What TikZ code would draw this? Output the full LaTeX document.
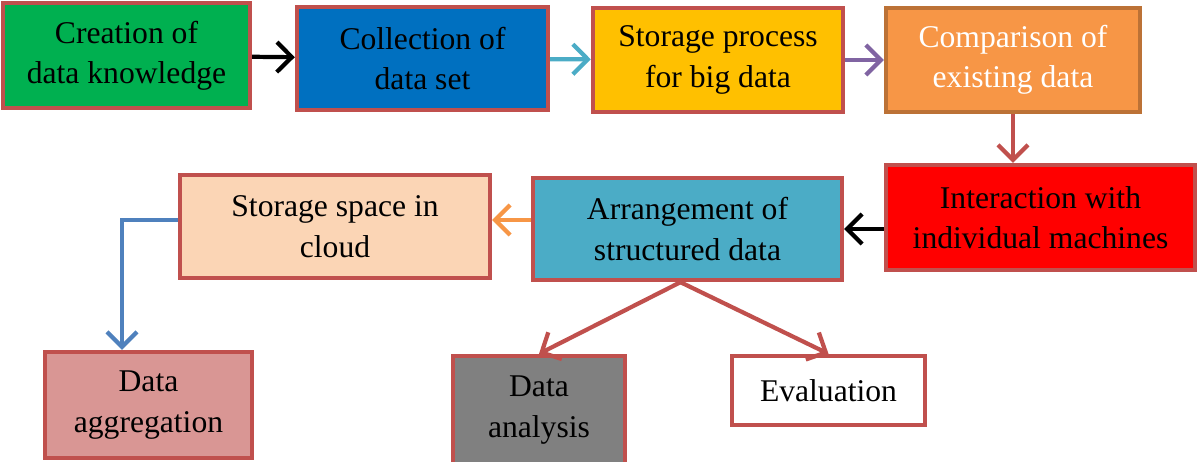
\documentclass[tikz,border=0pt]{standalone}
\usepackage{fontspec}
\setmainfont{Liberation Serif}
\usetikzlibrary{positioning,arrows.meta}
\definecolor{boxred}{RGB}{192,80,77}
\definecolor{cgreen}{RGB}{0,176,80}
\definecolor{cblue}{RGB}{0,112,192}
\definecolor{cyellow}{RGB}{255,192,0}
\definecolor{corange}{RGB}{247,150,70}
\definecolor{cbrown}{RGB}{188,114,54}
\definecolor{cteal}{RGB}{75,172,198}
\definecolor{cpeach}{RGB}{251,213,181}
\definecolor{cpink}{RGB}{217,150,148}
\definecolor{cpurple}{RGB}{128,100,162}
\definecolor{csteel}{RGB}{79,129,189}

\begin{document}
\begin{tikzpicture}[x=0.02cm,y=-0.02cm,
  box/.style={draw=boxred,line width=2.5pt,align=center,inner sep=2pt,
    font=\fontsize{18}{23}\selectfont},
  arr/.style={line width=2.4pt,-{Straight Barb[length=3mm,width=6mm]}}]
\useasboundingbox (0,0) rectangle (1197,461);
\node[box,fill=cgreen,minimum width=4.94cm,minimum height=2.1cm] (cre) at (126.5,55.5) {Creation of\\data knowledge};
\node[box,fill=cblue,minimum width=5.02cm,minimum height=2.06cm] (col) at (422.5,58.5) {Collection of\\data set};
\node[box,fill=cyellow,minimum width=5cm,minimum height=2.08cm] (sto) at (718,60) {Storage process\\for big data};
\node[box,draw=cbrown,fill=corange,text=white,minimum width=5.08cm,minimum height=2.08cm] (cmp) at (1013,60) {Comparison of\\existing data};
\node[box,fill=red,minimum width=6.18cm,minimum height=2.1cm] (int) at (1040.5,217.5) {Interaction with\\individual machines};
\node[box,fill=cteal,minimum width=6.18cm,minimum height=2.04cm] (arg) at (687.5,229) {Arrangement of\\structured data};
\node[box,fill=cpeach,minimum width=6.2cm,minimum height=2.06cm] (cld) at (335,226.5) {Storage space in\\cloud};
\node[box,fill=cpink,minimum width=4.14cm,minimum height=2.12cm] (agg) at (148.5,405) {Data\\aggregation};
\node[box,fill=gray,minimum width=3.44cm,minimum height=2.16cm] (ana) at (539,410) {Data\\analysis};
\node[box,fill=white,minimum width=3.86cm,minimum height=1.38cm] (eva) at (828.5,390.5) {Evaluation};

\draw[arr,black] (cre) -- (col);
\draw[arr,cteal] (col) -- (sto);
\draw[arr,cpurple] (sto) -- (cmp);
\draw[arr,boxred] (cmp) -- (cmp |- int.north);
\draw[arr,black] (int.west |- arg) -- (arg);
\draw[arr,corange] (arg.west |- 0,220) -- (cld.east |- 0,220);
\coordinate (bend) at (122,220);
\draw[arr,csteel] (cld.west |- bend) -- (bend) -- (bend |- agg.north);
\draw[arr,boxred] ([xshift=-4pt]arg.south) -- (ana.north);
\draw[arr,boxred] ([xshift=-4pt]arg.south) -- (eva.north);
\end{tikzpicture}
\end{document}
